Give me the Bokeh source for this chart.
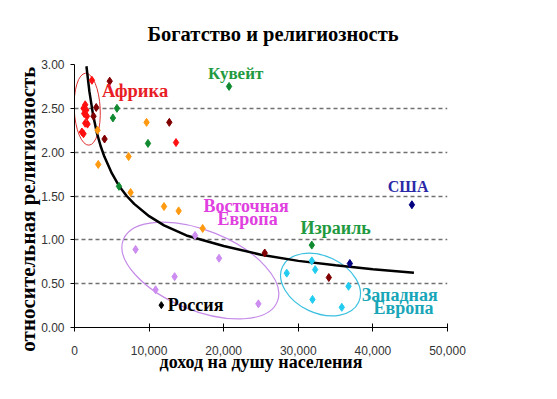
from bokeh.plotting import figure
from bokeh.models import Range1d, FixedTicker, NumeralTickFormatter, Label, Title
from bokeh.embed import file_html
from bokeh.resources import INLINE

# ---- data (income per capita, relative religiosity) ----
red_x = [2335, 1436, 1208, 1570, 1302, 1664, 1436, 1745, 993, 1208, 13610]
red_y = [2.82, 2.54, 2.50, 2.48, 2.44, 2.41, 2.33, 2.32, 2.23, 2.21, 2.11]

maroon_x = [4720, 2910, 2550, 4030, 12710, 25500, 34090]
maroon_y = [2.81, 2.51, 2.41, 2.15, 2.34, 0.85, 0.57]

green_x = [5690, 5150, 9850, 5960, 20720, 31810]
green_y = [2.50, 2.39, 2.10, 1.61, 2.75, 0.94]

orange_x = [9660, 3090, 7250, 3180, 7520, 12000, 13960, 17180]
orange_y = [2.34, 2.25, 1.95, 1.86, 1.54, 1.38, 1.33, 1.13]

violet_x = [16160, 8190, 19380, 13420, 10870, 24650]
violet_y = [1.05, 0.89, 0.79, 0.58, 0.43, 0.27]

cyan_x = [31810, 28450, 32260, 36730, 31900, 35830]
cyan_y = [0.76, 0.62, 0.66, 0.47, 0.32, 0.23]

navy_x = [36910, 45230]
navy_y = [0.73, 1.40]

russia_x = [11640]
russia_y = [0.255]

trend_x = [1600, 2000, 2500, 3000, 3500, 4000, 5000, 6000, 7000, 8000, 10000,
           12000, 15000, 20000, 25000, 30000, 35000, 40000, 45500]
trend_y = [2.98, 2.69, 2.42, 2.22, 2.07, 1.95, 1.76, 1.61, 1.50, 1.41, 1.27,
           1.165, 1.05, 0.93, 0.83, 0.76, 0.71, 0.665, 0.625]

x_ticks = [0, 10000, 20000, 30000, 40000, 50000]
y_ticks = [0, 0.5, 1.0, 1.5, 2.0, 2.5, 3.0]

SERIF = "Liberation Serif"
SANS = "Liberation Sans"

p = figure(width=541, height=383, output_backend="svg", toolbar_location=None,
           x_range=Range1d(0, 50000), y_range=Range1d(0, 3),
           min_border_left=74, min_border_right=94, min_border_top=63,
           min_border_bottom=56)
p.outline_line_color = None
p.background_fill_color = "white"
p.border_fill_color = "white"

p.add_layout(Title(text="Богатство и религиозность", align="left",
                   text_font=SERIF, text_font_size="20.5px", text_font_style="bold",
                   text_color="black", offset=73, standoff=40), "above")

# axes
p.xaxis.ticker = FixedTicker(ticks=x_ticks)
p.yaxis.ticker = FixedTicker(ticks=y_ticks)
p.xaxis.formatter = NumeralTickFormatter(format="0,0")
p.yaxis.formatter = NumeralTickFormatter(format="0.00")
p.xaxis.axis_label = "доход на душу населения"
p.yaxis.axis_label = "относительная религиозность\u00a0\u00a0\u00a0\u00a0\u00a0"
for ax in (p.xaxis, p.yaxis):
    ax.axis_label_text_font = SERIF
    ax.axis_label_text_font_style = "bold"
    ax.axis_label_text_color = "black"
    ax.major_label_text_font = SANS
    ax.major_label_text_font_size = "12px"
    ax.major_label_text_color = "#333333"
    ax.axis_line_color = "black"
    ax.major_tick_line_color = "black"
    ax.minor_tick_line_color = None
p.xaxis.axis_label_text_font_size = "18px"
p.yaxis.axis_label_text_font_size = "21px"
p.xaxis.major_tick_in = 4
p.xaxis.major_tick_out = 4
p.xaxis.major_label_standoff = 14
p.xaxis.axis_label_standoff = -6
p.yaxis.major_tick_in = 0
p.yaxis.major_tick_out = 4
p.yaxis.major_label_standoff = 6
p.yaxis.axis_label_standoff = -2

p.xgrid.grid_line_color = None
p.ygrid.grid_line_color = "#707070"
p.ygrid.grid_line_width = 1.5
p.ygrid.grid_line_dash = "4 3"

# ellipses
p.ellipse(x=1704, y=2.49, width=26, height=72, angle=0.047,
          width_units="screen", height_units="screen",
          fill_color=None, line_color="#e03030", line_width=1)
p.ellipse(x=16870, y=0.65, width=166, height=80, angle=-0.384,
          width_units="screen", height_units="screen",
          fill_color=None, line_color="#c58be8", line_width=1.2)
p.ellipse(x=32980, y=0.49, width=84, height=57, angle=-0.436,
          width_units="screen", height_units="screen",
          fill_color=None, line_color="#3cc0e0", line_width=1.2)

# trend line
p.line(trend_x, trend_y, line_color="black", line_width=2.5)

# points
def pts(xs, ys, color):
    p.scatter(xs, ys, marker="diamond", size=8, fill_color=color, line_color=color)

pts(red_x, red_y, "#ff1010")
pts(maroon_x, maroon_y, "#800000")
pts(green_x, green_y, "#108a30")
pts(orange_x, orange_y, "#ff9a10")
pts(violet_x, violet_y, "#cc8cf0")
pts(cyan_x, cyan_y, "#22ccf0")
pts(navy_x, navy_y, "#000080")
p.scatter(russia_x, russia_y, marker="diamond", size=7, fill_color="black", line_color="black")

# labels
def lab(x, y, text, color, size="18px", align="left"):
    p.add_layout(Label(x=x, y=y, text=text, text_color=color, text_font=SERIF,
                       text_font_style="bold", text_font_size=size,
                       text_align=align, text_baseline="middle"))

lab(3700, 2.70, "Африка", "#e81c24", size="18.5px")
lab(17900, 2.90, "Кувейт", "#1f9a40", size="17px")
lab(23000, 1.39, "Восточная", "#e040e0", align="center")
lab(23200, 1.24, "Европа", "#e040e0", align="center")
lab(30300, 1.13, "Израиль", "#1f9a40")
lab(42000, 1.61, "США", "#2a2aa8", size="16px")
lab(43600, 0.37, "Западная", "#18a6b8", align="center")
lab(44100, 0.22, "Европа", "#18a6b8", align="center")
lab(12500, 0.255, "Россия", "black")

open("out.html", "w").write(file_html(p, INLINE))
